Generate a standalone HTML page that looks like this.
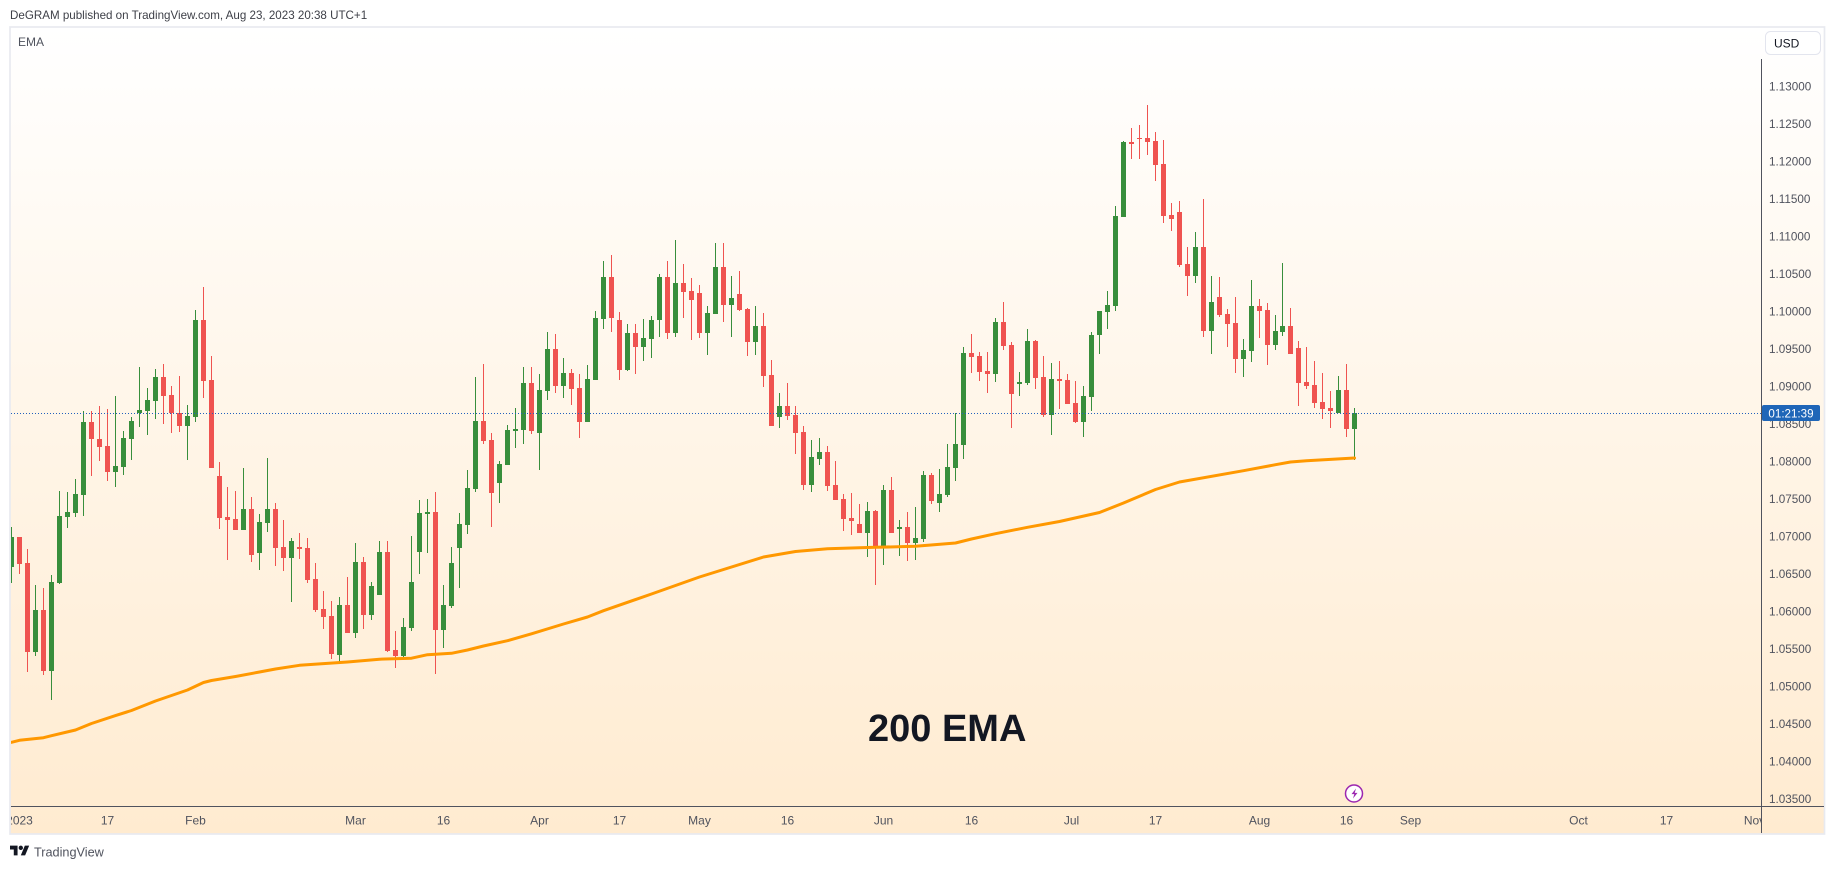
<!DOCTYPE html>
<html lang="en">
<head>
<meta charset="utf-8">
<title>DeGRAM EMA chart</title>
<style>
html,body{margin:0;padding:0;width:1835px;height:869px;overflow:hidden;background:#fff}
svg{display:block}
text{font-family:"Liberation Sans",sans-serif}
</style>
</head>
<body>
<svg id="chart" width="1835" height="869" viewBox="0 0 1835 869" xmlns="http://www.w3.org/2000/svg">
  <defs>
    <linearGradient id="paneGradient" x1="0" y1="0" x2="0" y2="1">
      <stop offset="0" stop-color="#ffffff"/>
      <stop offset="1" stop-color="#ffebd0"/>
    </linearGradient>
    <clipPath id="paneClip"><rect x="11" y="27" width="1750" height="779"/></clipPath>
    <clipPath id="timeClip"><rect x="11" y="807" width="1750" height="27"/></clipPath>
  </defs>
  <text x="10" y="19" font-size="11.6" fill="#3d3f47">DeGRAM published on TradingView.com, Aug 23, 2023 20:38 UTC+1</text>
  <rect x="10" y="27" width="1814.5" height="807" fill="url(#paneGradient)" stroke="#e8eaf0" stroke-width="1.7"/>
  <text x="18" y="46" font-size="12" fill="#50535e">EMA</text>
  <g id="candles" clip-path="url(#paneClip)"></g>
  <path id="emaLine" fill="none" stroke="#ff9800" stroke-width="3" stroke-linejoin="round" stroke-linecap="round" clip-path="url(#paneClip)"></path>
  <line id="priceLine" stroke="#2160bd" stroke-width="1" stroke-dasharray="1 2"></line>
  <text x="868" y="741" font-size="38" font-weight="700" fill="#131722">200 EMA</text>
  <g>
    <circle cx="1354" cy="793.5" r="8.5" fill="#fff" stroke="#9c27b0" stroke-width="1.5"/>
    <path d="M1356 788.5l-4.5 5.6h2.8l-1.3 4.4 4.5-5.6h-2.8z" fill="#9c27b0"/>
  </g>
  <line x1="1761.5" y1="59" x2="1761.5" y2="833" stroke="#50535e" stroke-width="1"/>
  <line x1="11" y1="806.5" x2="1824" y2="806.5" stroke="#50535e" stroke-width="1"/>
  <g id="priceTicksGroup"></g>
  <g id="timeTicksGroup" clip-path="url(#timeClip)"></g>
  <g>
    <rect x="1765.5" y="31.5" width="55" height="23" rx="5" fill="#fff" stroke="#e3e5ee"/>
    <text x="1774" y="47.5" font-size="12" fill="#131722">USD</text>
  </g>
  <g>
    <rect id="countdownBox" x="1762" y="405" width="58" height="16" rx="2" fill="#1f66b8"/>
    <text id="countdownText" x="1791" y="417.3" font-size="11.6" fill="#ffffff" text-anchor="middle">01:21:39</text>
  </g>
  <g>
    <g transform="translate(10,843.5) scale(0.54)" fill="#131722">
      <path d="M14 22H7V11H0V4h14v18zM28 22h-8l7.5-18h8L28 22z"/>
      <circle cx="20" cy="8" r="4"/>
    </g>
    <text x="34" y="856.5" font-size="12.7" fill="#50535e">TradingView</text>
  </g>
</svg>
<script>
const opens = [
1.06593,1.06993,1.06647,1.05460,1.06020,1.05207,1.06380,1.07260,1.07313,1.07553,
1.08527,1.08300,1.08207,1.07860,1.07927,1.08300,1.08647,1.08673,1.08807,1.09127,
1.08887,1.08647,1.08473,1.08593,1.09887,1.09087,1.07807,1.07260,1.07233,1.07087,
1.07367,1.06780,1.07180,1.07367,1.06860,1.06713,1.06860,1.06847,1.06433,1.06033,
1.05940,1.05420,1.06087,1.05713,1.06660,1.05953,1.06220,1.06793,1.05487,1.05407,
1.05780,1.06793,1.07300,1.07327,1.05753,1.06073,1.06847,1.07153,1.07633,1.08540,
1.08287,1.07713,1.07953,1.08407,1.08420,1.09047,1.08380,1.08940,1.09500,1.09007,
1.09180,1.08980,1.08527,1.09087,1.09900,1.10460,1.09887,1.09220,1.09713,1.09527,
1.09633,1.09887,1.10460,1.09713,1.10380,1.10273,1.10247,1.09713,1.09967,1.10593,
1.10087,1.10233,1.10033,1.09593,1.09807,1.09153,1.08593,1.08740,1.08620,1.08393,
1.07687,1.08033,1.08127,1.07687,1.07500,1.07247,1.07167,1.07047,1.07340,1.06873,
1.07620,1.07100,1.07127,1.06913,1.06967,1.07820,1.07447,1.07553,1.07913,1.08220,
1.09447,1.09407,1.09207,1.09167,1.09860,1.09553,1.09033,1.09047,1.09607,1.09127,
1.08620,1.09100,1.09087,1.08780,1.08527,1.08860,1.09687,1.09993,1.10073,1.11260,
1.12260,1.12313,1.12313,1.12273,1.11967,1.11287,1.11327,1.10633,1.10473,1.10860,
1.09740,1.10193,1.09967,1.09847,1.09367,1.09473,1.10073,1.10020,1.09553,1.09727,
1.09807,1.09513,1.09060,1.09020,1.08793,1.08713,1.08647,1.08953,1.08433];
const highs = [
1.07127,1.06993,1.06833,1.06353,1.06313,1.06487,1.07607,1.07593,1.07767,1.08673,
1.08673,1.08740,1.08700,1.08873,1.08407,1.08593,1.09260,1.08980,1.09233,1.09300,
1.09007,1.09140,1.08753,1.10020,1.10327,1.09407,1.07993,1.07660,1.07607,1.07913,
1.07527,1.07300,1.08047,1.07447,1.07220,1.06980,1.07047,1.06980,1.06647,1.06273,
1.06140,1.06193,1.06460,1.06913,1.06727,1.06393,1.06940,1.06940,1.05740,1.05913,
1.07007,1.07487,1.07500,1.07593,1.06353,1.06860,1.07313,1.07887,1.09127,1.09300,
1.08380,1.08007,1.08487,1.08713,1.09260,1.09260,1.09167,1.09727,1.09700,1.09380,
1.09233,1.09167,1.09287,1.10007,1.10673,1.10753,1.09993,1.09833,1.09833,1.09900,
1.09940,1.10500,1.10673,1.10953,1.10633,1.10447,1.10353,1.10073,1.10913,1.10913,
1.10473,1.10540,1.10047,1.10073,1.09980,1.09353,1.08913,1.09047,1.08740,1.08473,
1.08287,1.08313,1.08207,1.08007,1.07567,1.07580,1.07433,1.07460,1.07353,1.07687,
1.07793,1.07220,1.07327,1.07393,1.07873,1.07847,1.07900,1.08233,1.08647,1.09527,
1.09700,1.09460,1.09460,1.09913,1.10127,1.09593,1.09193,1.09767,1.09620,1.09407,
1.09313,1.09340,1.09167,1.09073,1.09007,1.09727,1.10007,1.10273,1.11407,1.12273,
1.12447,1.12487,1.12753,1.12393,1.12287,1.11447,1.11473,1.10860,1.11060,1.11500,
1.10473,1.10460,1.10033,1.10193,1.09633,1.10420,1.10167,1.10113,1.09953,1.10647,
1.10047,1.09607,1.09527,1.09340,1.09180,1.08940,1.09140,1.09300,1.08713];
const lows = [
1.06380,1.06500,1.05193,1.05407,1.05153,1.04820,1.06367,1.07113,1.07260,1.07273,
1.07807,1.08007,1.07740,1.07660,1.07820,1.08020,1.08460,1.08353,1.08567,1.08500,
1.08380,1.08393,1.08020,1.08527,1.08847,1.07913,1.07100,1.06687,1.07087,1.07087,
1.06660,1.06553,1.07060,1.06607,1.06540,1.06127,1.06700,1.06380,1.05993,1.05767,
1.05367,1.05327,1.05713,1.05647,1.05767,1.05887,1.06220,1.05460,1.05247,1.05367,
1.05740,1.06500,1.06780,1.05167,1.05513,1.06047,1.06313,1.07033,1.07593,1.08233,
1.07127,1.07447,1.07953,1.08180,1.08233,1.08367,1.07887,1.08820,1.08913,1.08847,
1.08753,1.08313,1.08527,1.09087,1.09767,1.09727,1.09087,1.09207,1.09167,1.09340,
1.09380,1.09660,1.09633,1.09660,1.09913,1.09620,1.09647,1.09420,1.09967,1.09860,
1.09660,1.10007,1.09407,1.09420,1.08993,1.08473,1.08447,1.08553,1.08100,1.07620,
1.07593,1.07953,1.07607,1.07487,1.07073,1.07020,1.07047,1.06727,1.06353,1.06620,
1.07047,1.06740,1.06673,1.06687,1.06927,1.07433,1.07327,1.07527,1.07740,1.08033,
1.09180,1.09073,1.08913,1.09060,1.09487,1.08447,1.08873,1.09020,1.08967,1.08593,
1.08353,1.08700,1.08767,1.08513,1.08327,1.08673,1.09433,1.09767,1.10007,1.11260,
1.12033,1.12033,1.12087,1.11740,1.11180,1.11073,1.10593,1.10207,1.10380,1.09660,
1.09433,1.09927,1.09527,1.09180,1.09127,1.09327,1.09647,1.09287,1.09487,1.09673,
1.09433,1.08740,1.08967,1.08713,1.08567,1.08447,1.08647,1.08327,1.08020];
const closes = [
1.06993,1.06633,1.05460,1.06020,1.05207,1.06393,1.07273,1.07327,1.07567,1.08527,
1.08300,1.08193,1.07860,1.07940,1.08313,1.08540,1.08687,1.08820,1.09127,1.08873,
1.08647,1.08473,1.08607,1.09887,1.09073,1.07913,1.07247,1.07220,1.07087,1.07367,
1.06753,1.07193,1.07367,1.06847,1.06713,1.06940,1.06833,1.06420,1.06020,1.05927,
1.05433,1.06087,1.05713,1.06660,1.05953,1.06340,1.06793,1.05473,1.05407,1.05793,
1.06393,1.07313,1.07327,1.05753,1.06087,1.06647,1.07167,1.07647,1.08540,1.08273,
1.07580,1.07967,1.08420,1.08433,1.09047,1.08407,1.08953,1.09500,1.09007,1.09180,
1.08967,1.08527,1.09100,1.09913,1.10460,1.09913,1.09220,1.09713,1.09527,1.09647,
1.09887,1.10460,1.09713,1.10380,1.10260,1.10153,1.09713,1.09980,1.10593,1.10087,
1.10180,1.10020,1.09593,1.09807,1.09140,1.08473,1.08740,1.08607,1.08380,1.07687,
1.08060,1.08127,1.07673,1.07487,1.07233,1.07207,1.07047,1.07340,1.06873,1.07620,
1.07047,1.07127,1.06913,1.06980,1.07820,1.07473,1.07567,1.07927,1.08233,1.09447,
1.09393,1.09193,1.09167,1.09860,1.09540,1.08900,1.09060,1.09607,1.09113,1.08620,
1.09100,1.09073,1.08767,1.08527,1.08873,1.09687,1.10007,1.10087,1.11273,1.12260,
1.12233,1.12300,1.12260,1.11953,1.11273,1.11233,1.10620,1.10473,1.10860,1.09740,
1.10127,1.09953,1.09833,1.09367,1.09487,1.10073,1.10007,1.09553,1.09740,1.09807,
1.09433,1.09047,1.09007,1.08780,1.08700,1.08673,1.08953,1.08433,1.08647];

const emaBars = [0,1,4,5,8,10,13,15,18,22,24,25,28,31,33,36,42,46,50,52,55,57,59,62,65,69,72,74,80,86,94,98,102,108,113,118,120,123,127,131,136,139,143,146,154,158,160,162,168];
const emaValues = [1.04256,1.04283,1.04317,1.04344,1.04420,1.04506,1.04612,1.04680,1.04806,1.04953,1.05053,1.05080,1.05133,1.05193,1.05233,1.05282,1.05326,1.05364,1.05377,1.05424,1.05442,1.05486,1.05540,1.05610,1.05702,1.05833,1.05926,1.06010,1.06233,1.06460,1.06726,1.06800,1.06837,1.06856,1.06869,1.06913,1.06966,1.07037,1.07122,1.07200,1.07320,1.07446,1.07626,1.07726,1.07877,1.07957,1.07993,1.08010,1.08046];

const priceTicks = [1.13,1.125,1.12,1.115,1.11,1.105,1.10,1.095,1.09,1.085,1.08,1.075,1.07,1.065,1.06,1.055,1.05,1.045,1.04,1.035];
const timeLabels = ["2023","17","Feb","Mar","16","Apr","17","May","16","Jun","16","Jul","17","Aug","16","Sep","Oct","17","Nov"];
const timeBars = [1,12,23,43,54,66,76,86,97,109,120,132.5,143,156,167,175,196,207,218];

const SVG_NS = "http://www.w3.org/2000/svg";
function xAt(i){ return Math.floor(11.95 + 7.994 * i); }
function yAt(p){ return 86.5 + (1.13 - p) * 7500; }

function makeRect(x, y, w, h, fill){
  const r = document.createElementNS(SVG_NS, "rect");
  r.setAttribute("x", x);
  r.setAttribute("y", y);
  r.setAttribute("width", w);
  r.setAttribute("height", h);
  r.setAttribute("fill", fill);
  return r;
}

const candlesGroup = document.getElementById("candles");
for (let i = 0; i < opens.length; i++) {
  const up = closes[i] >= opens[i];
  const color = up ? "#388e3c" : "#ef5350";
  const px = xAt(i);
  const g = document.createElementNS(SVG_NS, "g");
  
  
  const wickTop = Math.round(yAt(highs[i]));
  const wickBottom = Math.round(yAt(lows[i]));
  const wick = makeRect(px, wickTop, 1, Math.max(1, wickBottom - wickTop), color);
  
  
  const bodyTop = Math.round(yAt(Math.max(opens[i], closes[i])));
  const bodyBottom = Math.round(yAt(Math.min(opens[i], closes[i])));
  const body = makeRect(px - 2, bodyTop, 5, Math.max(1, bodyBottom - bodyTop), color);
  
  
  g.appendChild(wick);
  g.appendChild(body);
  candlesGroup.appendChild(g);
}

let emaPath = "";
for (let k = 0; k < emaBars.length; k++) {
  emaPath += (k ? "L" : "M") + (xAt(emaBars[k]) + 0.5) + " " + yAt(emaValues[k]).toFixed(1);
}
document.getElementById("emaLine").setAttribute("d", emaPath);

const lastClose = closes[closes.length - 1];
const lastY = Math.round(yAt(lastClose));
const priceLine = document.getElementById("priceLine");
priceLine.setAttribute("x1", 11);
priceLine.setAttribute("x2", 1761);
priceLine.setAttribute("y1", lastY + 0.5);
priceLine.setAttribute("y2", lastY + 0.5);
document.getElementById("countdownBox").setAttribute("y", lastY - 8);
document.getElementById("countdownText").setAttribute("y", lastY + 4.3);

const priceGroup = document.getElementById("priceTicksGroup");
for (const tick of priceTicks) {
  const t = document.createElementNS(SVG_NS, "text");
  
  
  t.setAttribute("x", 1769);
  t.setAttribute("y", yAt(tick) + 4.2);
  t.setAttribute("font-size", "11.7");
  t.setAttribute("fill", "#50535e");
  t.textContent = tick.toFixed(5);
  priceGroup.appendChild(t);
}

const timeGroup = document.getElementById("timeTicksGroup");
for (let k = 0; k < timeLabels.length; k++) {
  const t = document.createElementNS(SVG_NS, "text");
  
  
  t.setAttribute("x", xAt(timeBars[k]) + 0.5);
  t.setAttribute("y", 824.5);
  t.setAttribute("font-size", "12");
  t.setAttribute("text-anchor", "middle");
  t.setAttribute("fill", "#50535e");
  t.textContent = timeLabels[k];
  timeGroup.appendChild(t);
}
</script>
</body>
</html>
